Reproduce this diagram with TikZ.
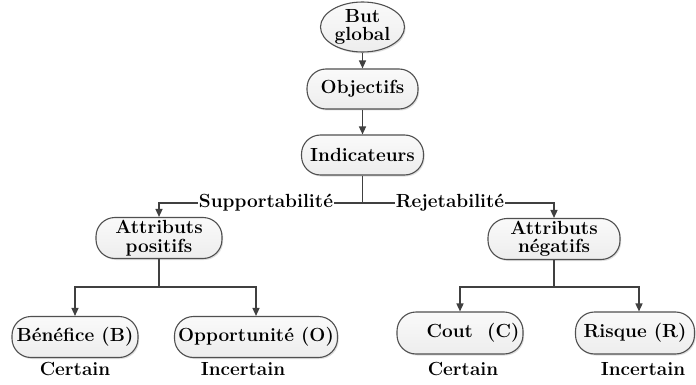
\documentclass[tikz,border=0pt]{standalone}
\usepackage{fontspec}
\usetikzlibrary{arrows.meta,shapes.geometric,shadows}
\definecolor{linecol}{HTML}{404040}
\definecolor{boxline}{HTML}{505050}
\tikzset{
  every node/.style={font=\fontsize{19}{18.5}\selectfont\bfseries, text=black},
  pill/.style={draw=boxline, line width=1.1pt, rounded corners=19pt,
    top color=gray!4, bottom color=gray!14,
    drop shadow={opacity=0.25, shadow xshift=1.2pt, shadow yshift=-1.5pt},
    inner sep=0pt, align=center},
  oval/.style={ellipse, draw=boxline, line width=1.1pt,
    top color=gray!4, bottom color=gray!14,
    drop shadow={opacity=0.25, shadow xshift=1.2pt, shadow yshift=-1.5pt},
    inner sep=0pt, align=center},
  link/.style={draw=linecol, line width=1.4pt},
  arr/.style={link, -{Triangle[length=8pt,width=7pt]}},
  edgelabel/.style={fill=white, inner sep=1pt},
  note/.style={anchor=base}
}
\begin{document}
\begin{tikzpicture}[x=1pt,y=-1pt]
\useasboundingbox (0,0) rectangle (696,385);
\fill[white] (0,0) rectangle (696,385);

% hierarchy nodes
\node[oval, minimum width=84pt, minimum height=43pt] (but) at (362.5,27) {But\\global};
\node[pill, minimum width=111pt, minimum height=40pt] (obj) at (362.5,89) {Objectifs};
\node[pill, minimum width=122pt, minimum height=40pt] (ind) at (362.5,155) {Indicateurs};
\node[pill, minimum width=126pt, minimum height=41pt] (apos) at (159,238) {Attributs\\positifs};
\node[pill, minimum width=132pt, minimum height=41pt] (aneg) at (554,239) {Attributs\\négatifs};
\node[pill, minimum width=126pt, minimum height=41pt] (ben) at (75,337) {Bénéfice (B)};
\node[pill, minimum width=163pt, minimum height=41pt] (opp) at (256,337) {Opportunité (O)};
\node[pill, minimum width=126pt, minimum height=42pt] (cout) at (460,333) {\hspace*{26pt}Cout\ \ (C)};
\node[pill, minimum width=119pt, minimum height=42pt] (risq) at (635,333) {Risque (R)};

% certainty notes
\node[note] (c1) at (75,375) {Certain};
\node[note] (i1) at (243,375) {Incertain};
\node[note] (c2) at (463,375) {Certain};
\node[note] (i2) at (643,375) {Incertain};

% connectors
\draw[arr] (but) -- (obj);
\draw[arr] (obj) -- (ind);
\draw[link] (ind.south) -- (362.5,203) coordinate (split);
\draw[arr] (split) -| (apos.north);
\draw[arr] (split) -| (aneg.north);
\node[edgelabel] (sup) at (266,203) {Supportabilité};
\node[edgelabel] (rej) at (450,203) {Rejetabilité};

\draw[link] (apos.south) -- (159,287) coordinate (lsplit);
\draw[arr] (lsplit) -| (ben.north);
\draw[arr] (lsplit) -| (opp.north);

\draw[link] (aneg.south) -- (554,287) coordinate (rsplit);
\draw[arr] (rsplit) -| (cout.north);
\draw[arr] (rsplit) -| ([xshift=4pt]risq.north);
\end{tikzpicture}
\end{document}
